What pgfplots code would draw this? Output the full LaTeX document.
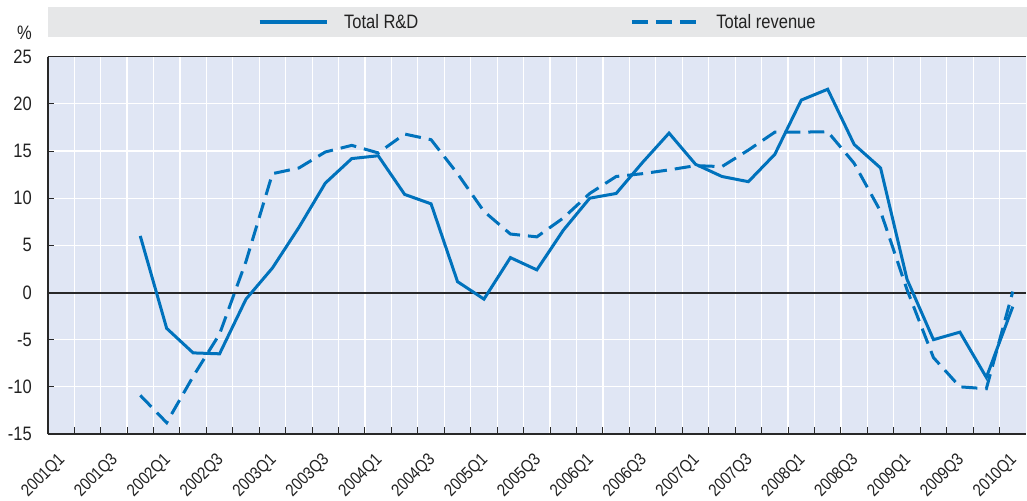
\documentclass[border=0pt]{standalone}
\usepackage{fontspec}
\setmainfont{Liberation Sans}[FakeStretch=0.85]
\usepackage{pgfplots}
\pgfplotsset{compat=1.18}
\usepackage{pgfplotstable}

\definecolor{oecdblue}{RGB}{0,114,188}
\definecolor{plotbg}{RGB}{224,230,244}
\definecolor{leggray}{RGB}{230,231,232}
\definecolor{axisgray}{RGB}{40,40,40}
\definecolor{textgray}{RGB}{34,34,34}

\pgfplotstableread{
k rd rev
3 6.0 -10.9
4 -3.8 -13.8
5 -6.4 -8.9
6 -6.5 -4.4
7 -0.7 3.3
8 2.6 12.6
9 6.9 13.2
10 11.6 14.9
11 14.2 15.6
12 14.5 14.8
13 10.4 16.8
14 9.4 16.2
15 1.15 12.6
16 -0.7 8.6
17 3.7 6.2
18 2.4 5.9
19 6.6 7.9
20 10.0 10.5
21 10.5 12.3
22 13.8 12.6
23 16.9 13.0
24 13.6 13.45
25 12.3 13.35
26 11.75 15.1
27 14.65 17.0
28 20.4 17.0
29 21.55 17.05
30 15.7 13.7
31 13.2 8.6
32 1.4 0.3
33 -5.0 -6.9
34 -4.2 -10.0
35 -9.0 -10.2
36 -1.5 0.1
}\datatable

\begin{document}
\begin{tikzpicture}
\useasboundingbox (-47.7bp,-67bp) rectangle (979.3bp,434bp);
\begin{axis}[
  name=ax,
  at={(0,0)}, anchor=south west,
  scale only axis, width=978.3bp, height=377.3bp,
  xmin=-0.5, xmax=36.5, ymin=-15, ymax=25,
  clip=false,
  ytick={-15,-10,...,25},
  xtick={0,2,...,36},
  xticklabels={2001Q1,2001Q3,2002Q1,2002Q3,2003Q1,2003Q3,2004Q1,2004Q3,2005Q1,2005Q3,2006Q1,2006Q3,2007Q1,2007Q3,2008Q1,2008Q3,2009Q1,2009Q3,2010Q1},
  minor xtick={0.5,1.5,...,35.5},
  xminorgrids, ymajorgrids,
  minor grid style={white, line width=1.2bp},
  major grid style={white, line width=1.2bp},
  major x tick style={draw=none},
  tick align=inside,
  axis x line*=bottom, axis y line*=left,
  axis line style={axisgray, line width=2bp},
  minor tick length=7bp, major tick length=6bp,
  minor x tick style={axisgray, line width=1bp},
  y tick style={axisgray, line width=1bp},
  axis background/.style={fill=plotbg},
  /pgf/number format/assume math mode=true,
  every tick label/.append style={font=\fontsize{19.5}{20}\selectfont, text=textgray},
  yticklabel style={anchor=east, inner sep=0pt, xshift=-15.7bp},
  xticklabel style={xshift=1.5bp, yshift=-23bp, rotate=45, anchor=east, inner sep=0pt, font=\fontsize{17.5}{18}\selectfont},
  extra y ticks={0}, extra y tick labels={},
  extra y tick style={grid=major, major grid style={axisgray, line width=2bp}, major tick length=0pt},
  legend columns=2,
  legend style={at={(0.5,1)}, anchor=center, yshift=34.7bp, fill=none, draw=none,
    font=\fontsize{19.5}{20}\selectfont, text=textgray,
    inner sep=0pt, nodes={inner sep=0pt},
    /tikz/every odd column/.append style={column sep=16bp},
    /tikz/every even column/.append style={column sep=212bp}},
  legend image code/.code={\draw[#1] (0bp,0bp) -- (67bp,0bp);},
]
\fill[leggray] ([yshift=19.7bp]rel axis cs:0,1) rectangle ([xshift=1bp,yshift=49.7bp]rel axis cs:1,1);
\addplot[oecdblue, line width=3bp] table[x=k,y=rd]{\datatable};
\addlegendentry{Total R\&D}
\addplot[oecdblue, line width=3bp, dash pattern=on 16bp off 8bp] table[x=k,y=rev]{\datatable};
\addlegendentry{Total revenue}
\draw[axisgray, line width=1.5bp] (rel axis cs:0,1) -- (rel axis cs:1,1);
\node[anchor=east, inner sep=0pt, font=\fontsize{19.5}{20}\selectfont, text=textgray] at ([xshift=-15.7bp,yshift=24bp]rel axis cs:0,1) {\%};
\end{axis}
\end{tikzpicture}
\end{document}
